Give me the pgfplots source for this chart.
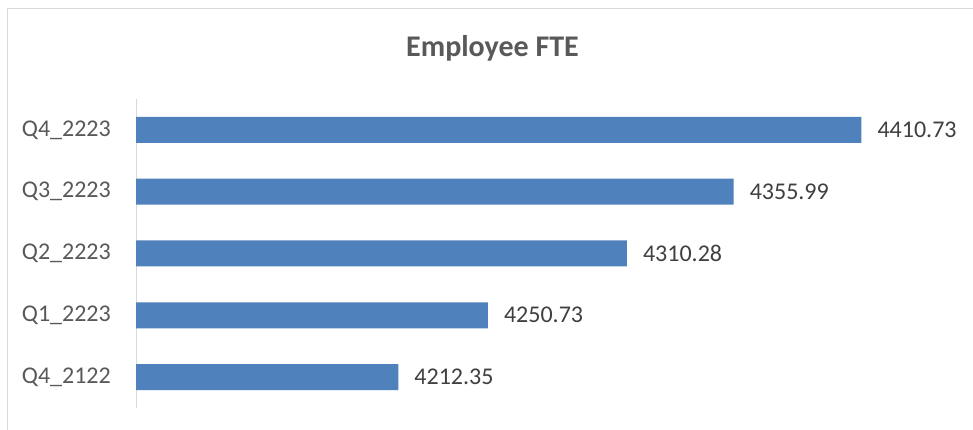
\documentclass[border=0pt]{standalone}
\usepackage{pgfplots}
\pgfplotsset{compat=1.18}
\usepackage{fontspec}
\setmainfont{Carlito}
\definecolor{barblue}{HTML}{4F81BD}
\definecolor{labgray}{HTML}{595959}
\definecolor{datgray}{HTML}{404040}
\definecolor{linegray}{HTML}{D9D9D9}
\begin{document}
\begin{tikzpicture}[x=1pt,y=1pt]
\clip (0,0) rectangle (973,430);
\fill[white] (0,0) rectangle (973,430);
\draw[linegray, line width=1pt] (7.5,-10) rectangle (990,421);
\node[anchor=base, text=labgray, font=\fontsize{30}{36}\selectfont\bfseries] at (492.5,373) {Employee FTE};
\begin{axis}[
  at={(136pt,22pt)}, anchor=south west,
  scale only axis,
  width=817pt, height=309pt,
  xbar, bar width=26pt,
  xmin=4100, xmax=4450,
  ymin=-0.5, ymax=4.5,
  axis x line=none,
  axis y line*=left,
  y axis line style={linegray, line width=1pt},
  ytick={0,1,2,3,4},
  yticklabels={Q4\_2122,Q1\_2223,Q2\_2223,Q3\_2223,Q4\_2223},
  major tick length=0pt,
  yticklabel style={inner sep=0pt, xshift=-25pt, text=labgray, font=\fontsize{24}{28}\selectfont},
  nodes near coords,
  point meta=explicit symbolic,
  every node near coord/.append style={anchor=west, inner sep=0pt, xshift=16pt, text=datgray, font=\fontsize{24}{28}\selectfont},
]
\addplot[fill=barblue, draw=none] coordinates {
  (4212.35,0) [4212.35]
  (4250.73,1) [4250.73]
  (4310.28,2) [4310.28]
  (4355.99,3) [4355.99]
  (4410.73,4) [4410.73]
};
\end{axis}
\end{tikzpicture}
\end{document}
